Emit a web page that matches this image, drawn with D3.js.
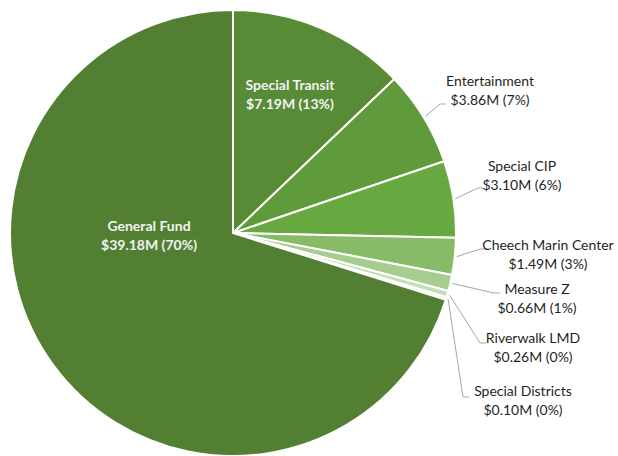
<!DOCTYPE html>
<html>
<head>
<meta charset="utf-8">
<script src="https://cdn.jsdelivr.net/npm/d3@7"></script>
<style>
  html, body { margin: 0; padding: 0; background: #fff; }
  svg { display: block; }
  text { font-family: Lato, "Open Sans", sans-serif; }
</style>
</head>
<body>
<svg id="chart" width="618" height="456"></svg>
<script>
// data, in pie order (clockwise from 12 o'clock)
var funds = ['Special Transit', 'Entertainment', 'Special CIP', 'Cheech Marin Center', 'Measure Z', 'Riverwalk LMD', 'Special Districts', 'General Fund'];
var amounts = [7.19, 3.86, 3.10, 1.49, 0.66, 0.26, 0.10, 39.18];
var fills = ['#588b36', '#5f9a3b', '#67a840', '#88bb68', '#a6cc8f', '#c4dfb3', '#dcecd1', '#527f32'];

// label placement (Excel style, mostly hand placed)
var inside = { 'Special Transit': [290, 85], 'General Fund': [149, 226] };
var outside = {
  'Entertainment':       { c: [490, 81],  elbow: [440, 104] },
  'Special CIP':         { c: [522, 166], elbow: [478, 188] },
  'Cheech Marin Center': { c: [548, 245], elbow: [480, 249] },
  'Measure Z':           { c: [537, 289], elbow: [494, 293] },
  'Riverwalk LMD':       { c: [533, 338], elbow: [480, 343] },
  'Special Districts':   { c: [523, 391], elbow: [463, 397] }
};

var svg = d3.select('#chart');
var cx = 233, cy = 233, R = 223;
var total = d3.sum(amounts);

var rows = funds.map(function(f, i){ return { name: f, value: amounts[i], fill: fills[i] }; });

var pie = d3.pie().sort(null).value(function(d){ return d.value; });
var arc = d3.arc().innerRadius(0).outerRadius(R);
var arcs = pie(rows);

var g = svg.append('g').attr('transform', 'translate(' + cx + ',' + cy + ')');

g.selectAll('path.slice').data(arcs).enter().append('path')
  .attr('class', 'slice')
  .attr('d', arc)
  .attr('fill', function(d){ return d.data.fill; })
  .attr('stroke', '#fff')
  .attr('stroke-width', 2)
  .attr('stroke-linejoin', 'round');

function labelText(d){
  return ['$' + d.value.toFixed(2) + 'M (' + Math.round(d.value / total * 100) + '%)'];
}

// leader lines
var lead = svg.append('g');
arcs.forEach(function(a){
  var o = outside[a.data.name];
  if (!o) return;
  var mid = (a.startAngle + a.endAngle) / 2;
  var r0 = R + 2;
  var p0 = [cx + r0 * Math.sin(mid), cy - r0 * Math.cos(mid)];
  var pts = [p0, o.elbow, [o.elbow[0] + 6, o.elbow[1]]];
  lead.append('path')
    .attr('d', d3.line()(pts))
    .attr('fill', 'none')
    .attr('stroke', '#a6a6a6')
    .attr('stroke-width', 1);
});

// labels
var lab = svg.append('g');
arcs.forEach(function(a){
  var d = a.data;
  var lines = [d.name].concat(labelText(d));
  var pos, col, weight;
  if (inside[d.name]) { pos = inside[d.name]; col = '#f2f2f2'; weight = 700; }
  else { pos = outside[d.name].c; col = '#1f1f1f'; weight = 400; }
  var t = lab.append('text')
    .attr('text-anchor', 'middle')
    .attr('font-size', '14px')
    .attr('font-weight', weight)
    .attr('fill', col);
  lines.forEach(function(s, k){
    t.append('tspan').attr('x', pos[0]).attr('y', pos[1] + 5 + k * 19).text(s);
  });
});
</script>
</body>
</html>
